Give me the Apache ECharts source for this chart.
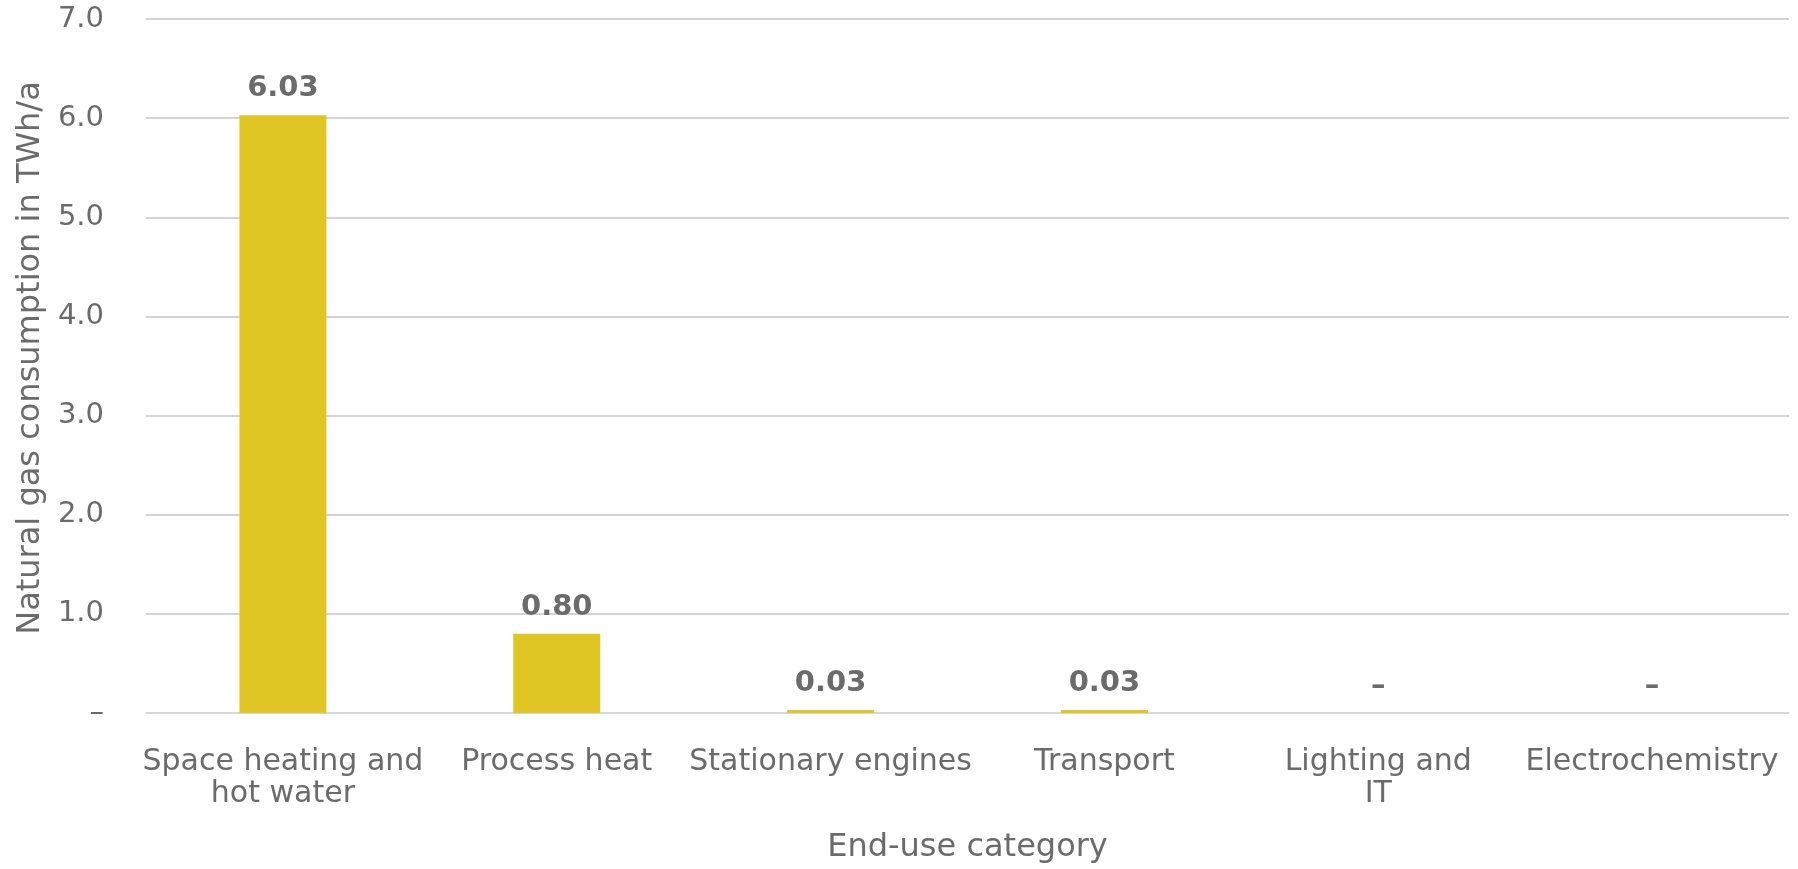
<!DOCTYPE html>
<html><head><meta charset="utf-8">
<script src="https://cdn.jsdelivr.net/npm/echarts@6/dist/echarts.min.js"></script>
<style>html,body{margin:0;padding:0;background:#fff}#c{width:1798px;height:869px}</style>
</head><body><div id="c"></div>
<script>
const categories = ['Space heating and\nhot water', 'Process heat', 'Stationary engines', 'Transport', 'Lighting and\nIT', 'Electrochemistry'];
const values = [6.03, 0.80, 0.03, 0.03, 0, 0];
const yTicks = { min: 0, max: 7, interval: 1 };
const yName = 'Natural gas consumption in TWh/a';
const xName = 'End-use category';

const font = 'DejaVu Sans';
const gray = '#6b6b6b';
const chart = echarts.init(document.getElementById('c'));
chart.setOption({
  animation: false,
  grid: { left: 146, right: 9, top: 19, bottom: 152 },
  xAxis: {
    type: 'category', data: categories,
    name: xName, nameLocation: 'middle', nameGap: 119,
    nameTextStyle: { fontFamily: font, fontSize: 32, color: gray },
    axisLine: { lineStyle: { color: '#d9d9d9', width: 1.5 } },
    axisTick: { show: false },
    axisLabel: { interval: 0, fontFamily: font, fontSize: 30, color: gray, margin: 33, lineHeight: 32 }
  },
  yAxis: {
    type: 'value', min: yTicks.min, max: yTicks.max, interval: yTicks.interval,
    name: yName, nameLocation: 'middle', nameGap: 97,
    nameTextStyle: { fontFamily: font, fontSize: 32, color: gray, padding: [0, 0, 0, 16] },
    axisLine: { show: false }, axisTick: { show: false },
    splitLine: { lineStyle: { color: '#c6c6c6', width: 1.5 } },
    axisLabel: { fontFamily: font, fontSize: 29, color: gray, margin: 42,
      formatter: v => v === 0 ? '–' : v.toFixed(1) }
  },
  series: [{
    type: 'bar', data: values, barWidth: 87,
    itemStyle: { color: '#E0C624' },
    label: { show: true, position: 'top', distance: 12, fontFamily: font, fontSize: 29, fontWeight: 'bold', color: gray,
      formatter: p => p.value === 0 ? '–' : p.value.toFixed(2) }
  }]
});
</script></body></html>
